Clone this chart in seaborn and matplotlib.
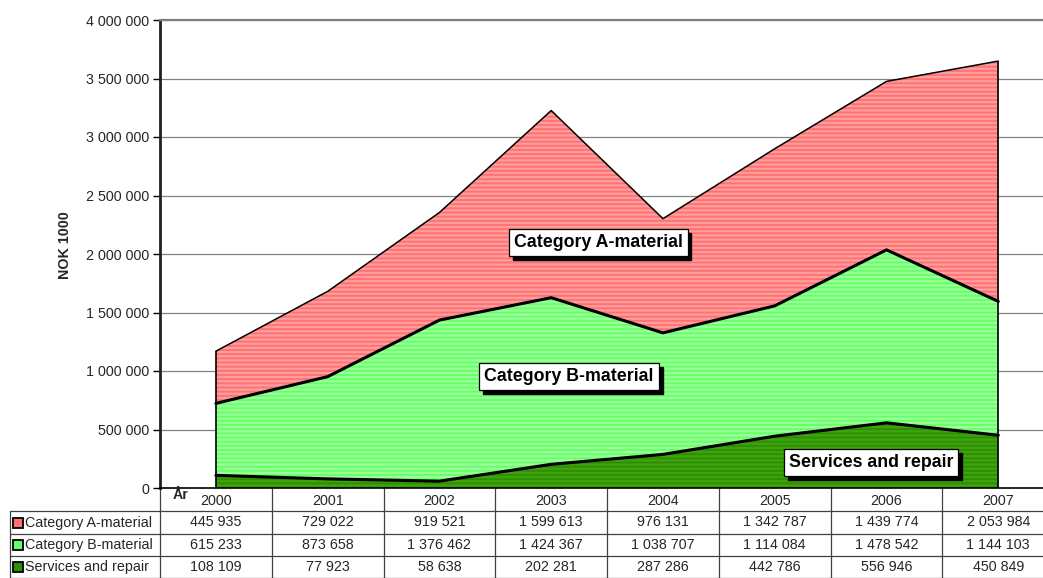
import matplotlib
matplotlib.use("Agg")
import matplotlib.pyplot as plt
import matplotlib.transforms as mtransforms
import pandas as pd
import seaborn as sns

# values from the data table under the chart
years = ["2000", "2001", "2002", "2003", "2004", "2005", "2006", "2007"]
cat_a = [445935, 729022, 919521, 1599613, 976131, 1342787, 1439774, 2053984]
cat_b = [615233, 873658, 1376462, 1424367, 1038707, 1114084, 1478542, 1144103]
services = [108109, 77923, 58638, 202281, 287286, 442786, 556946, 450849]
series_names = ["Category A-material", "Category B-material", "Services and repair"]

# fill colour, stripe colour
colors = {
    "Category A-material": ("#FF7070", "#FF9C9C"),
    "Category B-material": ("#66FF66", "#99FF99"),
    "Services and repair": ("#2C8E00", "#3FA310"),
}

sns.set_theme(style="white")
plt.rcParams["font.family"] = ["Liberation Sans", "DejaVu Sans"]
plt.rcParams["hatch.linewidth"] = 1.7

FS = 10.3


def fmt(v):
    return f"{v:,}".replace(",", " ")


df = pd.DataFrame({"year": years, "a": cat_a, "b": cat_b, "s": services})
df["x"] = range(len(df))
df["low"] = df["s"]
df["mid"] = df["s"] + df["b"]
df["top"] = df["mid"] + df["a"]

W, H = 1043, 578
fig = plt.figure(figsize=(W / 100, H / 100), dpi=100)
ax = fig.add_axes([160 / W, 1 - 488 / H, (W - 160) / W, (488 - 20) / H])

# gridlines behind the areas
for v in range(500000, 4000001, 500000):
    ax.axhline(v, color="#808080", lw=1.6 if v == 4000000 else 0.9, zorder=0)

# stacked areas with horizontal stripes
layers = [
    ("Services and repair", 0, df["low"]),
    ("Category B-material", df["low"], df["mid"]),
    ("Category A-material", df["mid"], df["top"]),
]
for name, lower, upper in layers:
    fc, sc = colors[name]
    ax.fill_between(df["x"], lower, upper, facecolor=fc, edgecolor=sc,
                    hatch="----", linewidth=0, zorder=1)

sns.lineplot(data=df, x="x", y="low", color="black", lw=2.2, ax=ax, zorder=3)
sns.lineplot(data=df, x="x", y="mid", color="black", lw=2.2, ax=ax, zorder=3)
sns.lineplot(data=df, x="x", y="top", color="black", lw=1.1, ax=ax, zorder=3)
ax.vlines([df["x"].iloc[0], df["x"].iloc[-1]], 0,
          [df["top"].iloc[0], df["top"].iloc[-1]], color="black", lw=1.2, zorder=3)

ax.set_xlim(-0.5, 7.4)
ax.set_ylim(0, 4000000)
ax.set_yticks(range(0, 4000001, 500000))
ax.set_yticklabels([fmt(v) for v in range(0, 4000001, 500000)], fontsize=FS)
ax.tick_params(axis="y", left=True, length=5, width=1, pad=3, color="black")
ax.set_xticks([])
ax.set_xlabel("")
ax.set_ylabel("NOK 1000", fontsize=FS, fontweight="bold")
ax.yaxis.set_label_coords(-0.100, 0.52)

ax.spines["right"].set_visible(False)
ax.spines["top"].set_color("#808080")
ax.spines["top"].set_linewidth(1.6)
ax.spines["left"].set_color("#202020")
ax.spines["left"].set_linewidth(2)
ax.spines["bottom"].set_color("black")
ax.spines["bottom"].set_linewidth(1.2)

# boxed labels with drop shadow
labels = [
    ("Category A-material", 3.42, 2100000),
    ("Category B-material", 3.16, 950000),
    ("Services and repair", 5.86, 215000),
]
for text, lx, ly in labels:
    ax.annotate(text, (lx, ly), xytext=(2.8, -2.8), textcoords="offset points",
                ha="center", va="center", fontsize=12.8, fontweight="bold", color="black",
                bbox=dict(boxstyle="square,pad=0.28", fc="black", ec="black"), zorder=4)
    ax.annotate(text, (lx, ly), ha="center", va="center", fontsize=12.8,
                fontweight="bold", color="black",
                bbox=dict(boxstyle="square,pad=0.28", fc="white", ec="black", lw=0.9),
                zorder=5)

# data table under the axes (x in data units, y in axes fraction)
trans = mtransforms.blended_transform_factory(ax.transData, ax.transAxes)
row_px = [488, 511, 534, 556, 578]
row_y = [(488 - p) / 468 for p in row_px]
left_x = -0.5 - 150 / (883 / 7.9)
line_kw = dict(color="#404040", lw=0.9, transform=trans, clip_on=False)

for i in range(len(years) + 1):
    ax.plot([i - 0.5, i - 0.5], [row_y[0], row_y[-1]], **line_kw)
ax.plot([left_x, left_x], [row_y[1], row_y[-1]], **line_kw)
for j in range(1, len(row_y)):
    ax.plot([left_x, 7.6], [row_y[j], row_y[j]], **line_kw)

for i, yr in enumerate(years):
    ax.text(i, (row_y[0] + row_y[1]) / 2 - 0.004, yr, ha="center", va="center",
            fontsize=FS, transform=trans)
ax.text(-0.39, row_y[0] - 0.014, "År", ha="left", va="center", fontsize=FS,
        fontweight="bold", transform=trans)

rows = [("Category A-material", cat_a), ("Category B-material", cat_b),
        ("Services and repair", services)]
for r, (name, vals) in enumerate(rows):
    yc = (row_y[r + 1] + row_y[r + 2]) / 2
    ax.plot([left_x + 0.07], [yc], marker="s", ms=6.5, mfc=colors[name][0],
            mec="black", mew=1.3, transform=trans, clip_on=False)
    ax.text(left_x + 0.135, yc, name, ha="left", va="center", fontsize=FS,
            transform=trans)
    for i, v in enumerate(vals):
        ax.text(i, yc, fmt(v), ha="center", va="center", fontsize=FS,
                transform=trans)

fig.savefig("out.png", dpi=100)
